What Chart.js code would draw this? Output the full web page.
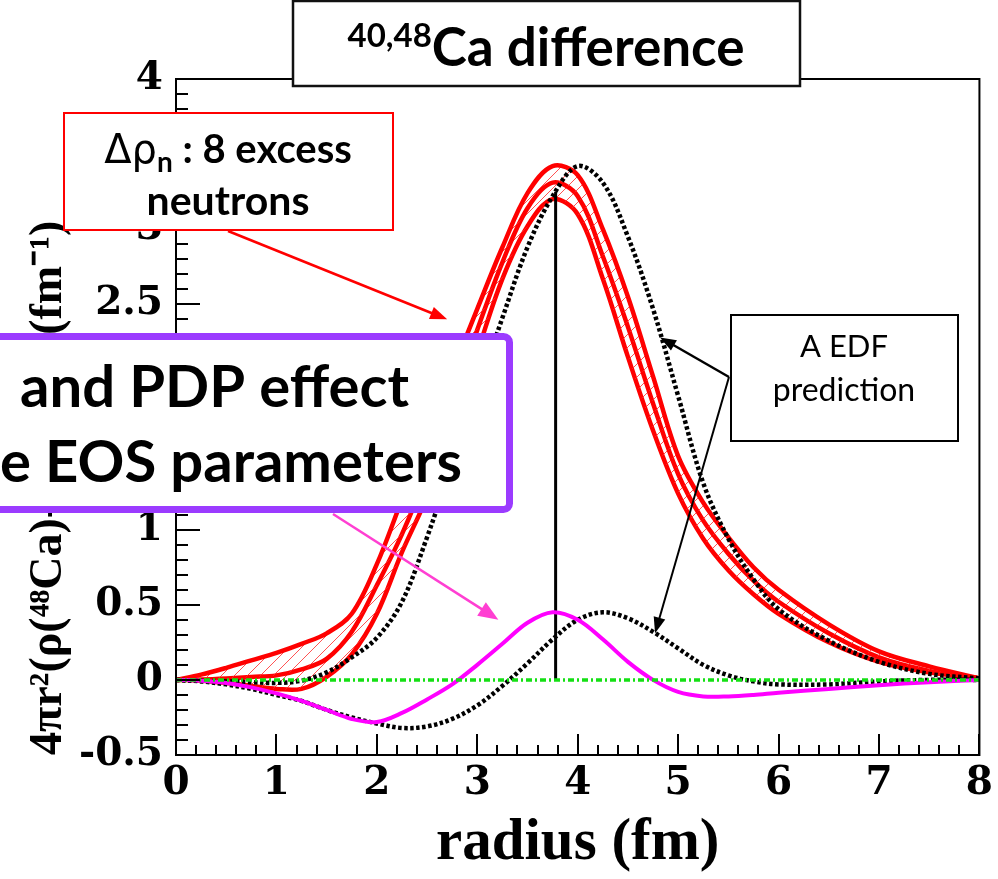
<!DOCTYPE html>
<html><head><meta charset="utf-8">
<script src="https://cdn.jsdelivr.net/npm/chart.js@4.4.0/dist/chart.umd.min.js"></script>
<style>html,body{margin:0;padding:0;background:#fff;overflow:hidden}canvas{display:block}</style>
</head><body>
<canvas id="c" width="998" height="879"></canvas>
<script>
// ---- data ----
const radius    = [0,0.25,0.5,0.75,1,1.25,1.5,1.75,2,2.25,2.5,2.75,3,3.25,3.5,3.75,4,4.25,4.5,4.75,5,5.25,5.5,5.75,6,6.5,7,7.5,8];
const redOuter  = [0,0.035,0.08,0.13,0.18,0.24,0.31,0.44,0.77,1.2,1.62,2.05,2.47,2.88,3.24,3.42,3.36,3.0,2.55,2.02,1.49,1.18,0.95,0.75,0.60,0.37,0.19,0.09,0.01];
const redMiddle = [0,0.003,0.01,0.02,0.03,0.07,0.14,0.32,0.63,0.97,1.38,1.85,2.33,2.78,3.14,3.31,3.22,2.82,2.35,1.84,1.37,1.06,0.84,0.66,0.52,0.31,0.15,0.06,0.01];
const redInner  = [0,-0.005,-0.02,-0.04,-0.06,-0.06,0.02,0.17,0.44,0.85,1.22,1.68,2.18,2.67,3.02,3.2,3.1,2.67,2.15,1.66,1.24,0.94,0.73,0.57,0.44,0.25,0.12,0.05,0.01];
const edfTotal  = [0,-0.005,-0.01,-0.015,-0.02,-0.005,0.05,0.15,0.28,0.52,0.95,1.44,1.92,2.41,2.88,3.22,3.42,3.31,2.95,2.47,1.89,1.31,0.94,0.67,0.47,0.26,0.12,0.04,0.01];
const edfDiff   = [0,-0.01,-0.03,-0.06,-0.1,-0.14,-0.2,-0.25,-0.29,-0.32,-0.31,-0.26,-0.17,-0.04,0.11,0.27,0.4,0.45,0.41,0.32,0.21,0.1,0.03,-0.01,-0.03,-0.03,-0.01,0.0,0];
const pdpDiff   = [0,-0.005,-0.02,-0.05,-0.09,-0.14,-0.2,-0.26,-0.28,-0.22,-0.13,-0.03,0.1,0.24,0.38,0.45,0.4,0.27,0.12,0.0,-0.08,-0.11,-0.11,-0.1,-0.085,-0.06,-0.035,-0.015,0];
const zeroLineX = [0,8];
const zeroLineY = [0,0];
const markerX   = [3.78,3.78];
const markerY   = [0,3.25];
const xRange = [0,8];
const yRange = [-0.5,4];
const xMajorStep = 1, xMinorStep = 0.2;
const yMajorStep = 0.5, yMinorStep = 0.1;
// annotation arrow tips, in data units
const redArrowTip  = {x:2.70, y:2.40};
const pinkArrowTip = {x:3.21, y:0.40};
const edfArrowTip1 = {x:4.82, y:2.28};
const edfArrowTip2 = {x:4.77, y:0.31};

const pts = (xs, ys) => xs.map((x,i)=>({x, y: ys[i]}));

function hatchPattern(color){
  const s = 13;
  const c = document.createElement('canvas'); c.width = s; c.height = s;
  const g = c.getContext('2d');
  g.strokeStyle = color; g.lineWidth = 1;
  g.beginPath();
  g.moveTo(0,s); g.lineTo(s,0);
  g.moveTo(-s/2,s/2); g.lineTo(s/2,-s/2);
  g.moveTo(s/2,s*1.5); g.lineTo(s*1.5,s/2);
  g.stroke();
  return g.createPattern(c,'repeat');
}
const hatch = hatchPattern('rgba(255,40,40,0.8)');

function arrow(ctx, x1, y1, x2, y2, color, lw, hl, hw){
  const a = Math.atan2(y2-y1, x2-x1);
  ctx.save();
  ctx.strokeStyle = color; ctx.fillStyle = color; ctx.lineWidth = lw;
  ctx.beginPath(); ctx.moveTo(x1,y1);
  ctx.lineTo(x2 - Math.cos(a)*hl*0.8, y2 - Math.sin(a)*hl*0.8); ctx.stroke();
  ctx.beginPath();
  ctx.moveTo(x2,y2);
  ctx.lineTo(x2 - Math.cos(a)*hl + Math.sin(a)*hw/2, y2 - Math.sin(a)*hl - Math.cos(a)*hw/2);
  ctx.lineTo(x2 - Math.cos(a)*hl - Math.sin(a)*hw/2, y2 - Math.sin(a)*hl + Math.cos(a)*hw/2);
  ctx.closePath(); ctx.fill();
  ctx.restore();
}

function drawParts(ctx, parts, cx){
  let total = 0;
  parts.forEach(p=>{ ctx.font = p.font; p.w = ctx.measureText(p.t).width; total += p.w; });
  let x = cx - total/2;
  ctx.textAlign = 'left'; ctx.textBaseline = 'alphabetic';
  parts.forEach(p=>{ ctx.font = p.font; ctx.fillStyle = p.color || '#000'; ctx.fillText(p.t, x, p.y); x += p.w; });
}

const decor = {
  id: 'decor',
  afterDatasetsDraw(chart){
    const ctx = chart.ctx, a = chart.chartArea;
    const xs = chart.scales.x, ys = chart.scales.y;
    ctx.save();
    ctx.strokeStyle = '#000'; ctx.lineWidth = 2;
    ctx.strokeRect(a.left, a.top, a.right - a.left, a.bottom - a.top);
    ctx.beginPath();
    const nx = Math.round((xRange[1]-xRange[0])/xMinorStep);
    for (let i=0;i<=nx;i++){
      const v = xRange[0] + i*xMinorStep;
      const px = Math.round(xs.getPixelForValue(v));
      const len = (i % Math.round(xMajorStep/xMinorStep) === 0) ? 21 : 10;
      ctx.moveTo(px, a.bottom); ctx.lineTo(px, a.bottom - len);
    }
    const ny = Math.round((yRange[1]-yRange[0])/yMinorStep);
    for (let i=0;i<=ny;i++){
      const v = yRange[0] + i*yMinorStep;
      const py = Math.round(ys.getPixelForValue(v));
      const len = (i % Math.round(yMajorStep/yMinorStep) === 0) ? 24 : 12;
      ctx.moveTo(a.left, py); ctx.lineTo(a.left + len, py);
    }
    ctx.stroke();
    ctx.restore();
  },
  afterDraw(chart){
    const ctx = chart.ctx;
    const xs = chart.scales.x, ys = chart.scales.y;
    const P = p => [xs.getPixelForValue(p.x), ys.getPixelForValue(p.y)];
    ctx.save();
    // arrows
    let t = P(redArrowTip);  arrow(ctx, 228, 231, t[0], t[1], '#ff0000', 2.5, 17, 13);
    t = P(pinkArrowTip);     arrow(ctx, 333, 514, t[0], t[1], '#ff3fd2', 2.5, 20, 16);
    t = P(edfArrowTip1);     arrow(ctx, 729, 377, t[0], t[1], '#000', 2.5, 16, 12);
    t = P(edfArrowTip2);     arrow(ctx, 729, 377, t[0], t[1], '#000', 2, 16, 12);

    // title box
    ctx.fillStyle = '#fff'; ctx.fillRect(293, 1, 507, 85);
    ctx.strokeStyle = '#111'; ctx.lineWidth = 2.5; ctx.strokeRect(293, 1, 507, 85);
    drawParts(ctx, [
      {t:'40,48', font:'bold 33px Lato, "Open Sans", sans-serif', y:47},
      {t:'Ca difference', font:'bold 53px Lato, "Open Sans", sans-serif', y:66}
    ], 546);

    // red box
    ctx.fillStyle = '#fff'; ctx.fillRect(64, 113, 329, 117);
    ctx.strokeStyle = '#ff0000'; ctx.lineWidth = 2; ctx.strokeRect(64, 113, 329, 117);
    drawParts(ctx, [
      {t:'Δρ', font:'40px "DejaVu Sans", Lato, sans-serif', y:163},
      {t:'n', font:'bold 28px Lato, "Open Sans", sans-serif', y:172},
      {t:' : 8 excess', font:'bold 40px Lato, "Open Sans", sans-serif', y:163}
    ], 228);
    drawParts(ctx, [{t:'neutrons', font:'bold 41px Lato, "Open Sans", sans-serif', y:215}], 228);

    // purple box
    ctx.fillStyle = '#fff';
    ctx.beginPath(); ctx.roundRect(-20, 336.5, 529.5, 173, 6); ctx.fill();
    ctx.strokeStyle = '#9b3bff'; ctx.lineWidth = 7; ctx.stroke();
    ctx.fillStyle = '#000'; ctx.textAlign = 'left'; ctx.textBaseline = 'alphabetic';
    ctx.font = 'bold 58px Lato, "Open Sans", sans-serif';
    ctx.fillText('and PDP effect', 20, 407);
    ctx.fillText('e EOS parameters', 0, 482);

    // EDF box
    ctx.fillStyle = '#fff'; ctx.fillRect(731, 315, 227, 126);
    ctx.strokeStyle = '#000'; ctx.lineWidth = 2; ctx.strokeRect(731, 315, 227, 126);
    drawParts(ctx, [{t:'A EDF', font:'31px Lato, "Open Sans", sans-serif', y:357}], 844);
    drawParts(ctx, [{t:'prediction', font:'32px Lato, "Open Sans", sans-serif', y:401}], 844);
    ctx.restore();
  }
};

const serifBold = (size) => ({family:'"DejaVu Serif", serif', weight:'bold', size});

new Chart(document.getElementById('c'), {
  type: 'line',
  data: {
    datasets: [
      {label:'Δρn outer', data: pts(radius, redOuter), borderColor:'#ff0000', borderWidth:4.5, fill:'+1', backgroundColor: hatch, order:6},
      {label:'Δρn middle', data: pts(radius, redMiddle), borderColor:'#ff0000', borderWidth:4.5, fill:'+1', backgroundColor: hatch, order:6},
      {label:'Δρn inner', data: pts(radius, redInner), borderColor:'#ff0000', borderWidth:4.5, fill:false, order:6},
      {label:'EDF neutron diff', data: pts(radius, edfTotal), borderColor:'#000', borderWidth:4.5, borderDash:[3.5,2.5], fill:false, order:3},
      {label:'EDF total diff', data: pts(radius, edfDiff), borderColor:'#000', borderWidth:4.5, borderDash:[3.5,2.5], fill:false, order:3},
      {label:'PDP diff', data: pts(radius, pdpDiff), borderColor:'#ff00ff', borderWidth:4, fill:false, order:2},
      {label:'zero', data: pts(zeroLineX, zeroLineY), borderColor:'#14e014', borderWidth:3.5, borderDash:[6,3,2,3], fill:false, tension:0, order:1},
      {label:'marker', data: pts(markerX, markerY), borderColor:'#000', borderWidth:3, fill:false, tension:0, order:4}
    ]
  },
  options: {
    responsive:false, animation:false, devicePixelRatio:1,
    elements:{ point:{radius:0, hoverRadius:0}, line:{borderCapStyle:'butt', tension:0.35} },
    layout:{ padding:{top:79, right:16, left:0, bottom:0} },
    plugins:{ legend:{display:false}, tooltip:{enabled:false}, title:{display:false} },
    scales:{
      x:{
        type:'linear', min:xRange[0], max:xRange[1],
        border:{display:false},
        grid:{display:true, drawOnChartArea:false, drawTicks:false, color:'rgba(0,0,0,0)'},
        ticks:{stepSize:xMajorStep, autoSkip:false, maxRotation:0, color:'#000', font:serifBold(39), padding:5,
               callback:v=>String(v)},
        title:{display:true, text:'radius (fm)', color:'#000', align:'center',
               font:{family:'"Liberation Serif", serif', weight:'bold', size:59, lineHeight:1.2}, padding:{top:0,bottom:0}},
        afterFit(s){ s.height = 124; }
      },
      y:{
        type:'linear', min:yRange[0], max:yRange[1],
        border:{display:false},
        grid:{display:true, drawOnChartArea:false, drawTicks:false, color:'rgba(0,0,0,0)'},
        ticks:{stepSize:yMajorStep, autoSkip:false, color:'#000', font:serifBold(39), padding:13,
               callback:v=>String(Math.round(v*10)/10)},
        title:{display:true, text:'4πr²(ρ(⁴⁸Ca)-ρ(⁴⁰Ca)) (fm⁻¹)', color:'#000', align:'start',
               font:{family:'"Liberation Serif", serif', weight:'bold', size:46, lineHeight:1.2}, padding:{top:22,bottom:0}},
        afterFit(s){ s.width = 176; }
      }
    }
  },
  plugins:[decor]
});
</script>
</body></html>
